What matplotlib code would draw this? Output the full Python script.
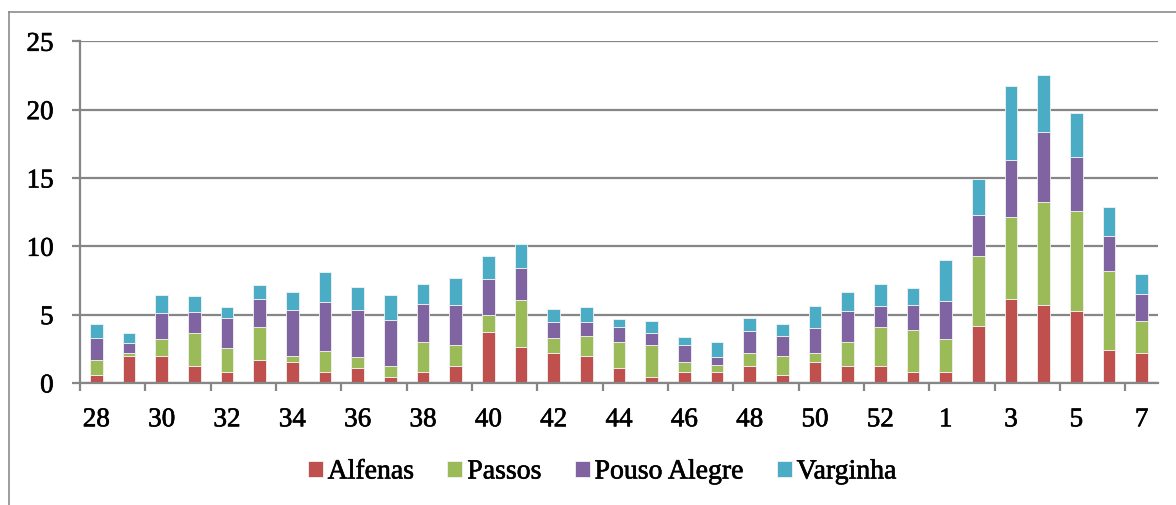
import matplotlib
matplotlib.use("Agg")
import matplotlib.pyplot as plt
import matplotlib.patheffects as pe
import numpy as np
from matplotlib.lines import Line2D

weeks = ["28", "29", "30", "31", "32", "33", "34", "35", "36", "37", "38", "39",
         "40", "41", "42", "43", "44", "45", "46", "47", "48", "49", "50", "51",
         "52", "53", "1", "2", "3", "4", "5", "6", "7"]

alfenas = [0.6, 2.0, 2.0, 1.27, 0.83, 1.71, 1.54, 0.83, 1.07, 0.41, 0.83, 1.27,
           3.73, 2.63, 2.2, 1.98, 1.07, 0.41, 0.83, 0.83, 1.27, 0.61, 1.54, 1.27,
           1.27, 0.83, 0.83, 4.2, 6.17, 5.73, 5.29, 2.41, 2.2]
passos = [1.1, 0.2, 1.25, 2.4, 1.73, 2.37, 0.41, 1.51, 0.86, 0.83, 2.17, 1.53,
          1.27, 3.42, 1.07, 1.46, 1.93, 2.37, 0.71, 0.49, 0.93, 1.34, 0.66, 1.73,
          2.8, 3.05, 2.39, 5.12, 5.98, 7.49, 7.27, 5.76, 2.34]
pouso_alegre = [1.6, 0.75, 1.9, 1.56, 2.22, 2.1, 3.39, 3.61, 3.41, 3.39, 2.78, 2.88,
                2.63, 2.39, 1.17, 1.0, 1.1, 0.88, 1.26, 0.56, 1.63, 1.46, 1.85, 2.29,
                1.59, 1.85, 2.78, 3.0, 4.19, 5.17, 4.0, 2.61, 2.0]
varginha = [1.0, 0.7, 1.3, 1.15, 0.76, 1.0, 1.34, 2.2, 1.66, 1.78, 1.44, 2.0,
            1.64, 1.76, 1.0, 1.12, 0.56, 0.88, 0.57, 1.1, 0.9, 0.88, 1.56, 1.34,
            1.56, 1.25, 3.0, 2.61, 5.37, 4.17, 3.17, 2.07, 1.44]

series_names = ["Alfenas", "Passos", "Pouso Alegre", "Varginha"]
series_vals = [alfenas, passos, pouso_alegre, varginha]
colors = ["#C0504D", "#9BBB59", "#8064A2", "#4BACC6"]
yticks = [0, 5, 10, 15, 20, 25]

FONT = "Liberation Serif"
FS = 19.5
FS_LEG = 20
plt.rcParams["font.family"] = [FONT, "DejaVu Serif"]
bold = [pe.withStroke(linewidth=0.45, foreground="black")]

W, H = 1176, 506
fig = plt.figure(figsize=(W / 100, H / 100), dpi=100)
ax = fig.add_axes([80 / W, 1 - 384 / H, (1158 - 80) / W, (384 - 42.3) / H])

x = np.arange(len(weeks))
bottom = np.zeros(len(weeks))
handles = []
for name, vals, c in zip(series_names, series_vals, colors):
    v = np.array(vals)
    b = ax.bar(x, v, width=0.39, bottom=bottom, color=c, edgecolor="#f2f2f2",
               linewidth=0.6, label=name, zorder=3)
    handles.append(b)
    bottom = bottom + v

grid_c = "#868686"
ax.set_ylim(0, 25)
ax.set_xlim(-0.5, len(weeks) - 0.5)
ax.set_yticks(yticks)
ax.set_yticklabels([str(t) for t in yticks], fontsize=FS)
ax.yaxis.grid(True, color=grid_c, linewidth=1.6, zorder=0)
ax.set_axisbelow(True)

# category boundary ticks every 2 categories, labels at centers of even categories
ax.set_xticks(np.arange(-0.5, len(weeks) - 1, 2))
ax.set_xticklabels([])
ax.set_xticks(x[::2], minor=True)
ax.set_xticklabels([weeks[i] for i in x[::2]], minor=True, fontsize=FS)
ax.tick_params(axis="x", which="major", length=6, width=1.6, color=grid_c, direction="out")
ax.tick_params(axis="x", which="minor", length=0, pad=17.5)
ax.tick_params(axis="y", length=6, width=1.6, color=grid_c, pad=13)

for lbl in ax.get_yticklabels() + ax.get_xticklabels(minor=True):
    lbl.set_path_effects(bold)

for s in ["top", "right"]:
    ax.spines[s].set_visible(False)
for s in ["left", "bottom"]:
    ax.spines[s].set_color(grid_c)
    ax.spines[s].set_linewidth(1.6)
    ax.spines[s].set_zorder(4)

leg = fig.legend(handles=handles, labels=series_names, loc="center",
                 bbox_to_anchor=(602 / W, 1 - 473 / H), ncol=4, frameon=False,
                 fontsize=FS_LEG, handlelength=0.54, handleheight=0.52,
                 handletextpad=0.18, columnspacing=1.2)
for t in leg.get_texts():
    t.set_path_effects(bold)

# outer chart frame (left and top visible)
fig.add_artist(Line2D([8.5 / W, 8.5 / W], [0, 1 - 13 / H], transform=fig.transFigure,
                      color="#8c8c8c", linewidth=1.2))
fig.add_artist(Line2D([8.5 / W, 1], [1 - 13 / H, 1 - 13 / H], transform=fig.transFigure,
                      color="#8c8c8c", linewidth=1.2))

fig.savefig("out.png", dpi=100)
